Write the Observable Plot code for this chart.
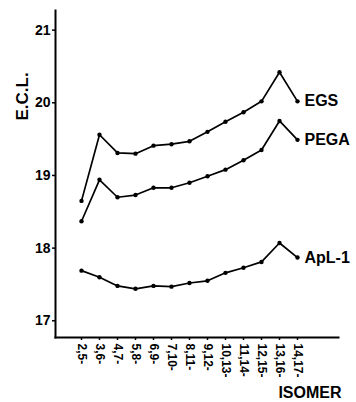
<!DOCTYPE html>
<html>
<head>
<meta charset="utf-8">
<script src="https://cdn.jsdelivr.net/npm/d3@7"></script>
<script src="https://cdn.jsdelivr.net/npm/@observablehq/plot@0.6"></script>
<style>
  html, body { margin: 0; padding: 0; background: #fff; }
  svg { display: block; }
</style>
</head>
<body>
<div id="chart"></div>
<script>
// Equivalent chain lengths of octadecadienoate positional isomers on three phases
const isomers = ["2,5-", "3,6-", "4,7-", "5,8-", "6,9-", "7,10-", "8,11-", "9,12-", "10,13-", "11,14-", "12,15-", "13,16-", "14,17-"];
const egs  = [18.65, 19.56, 19.31, 19.30, 19.41, 19.43, 19.47, 19.60, 19.74, 19.87, 20.02, 20.42, 20.02];
const pega = [18.37, 18.94, 18.70, 18.73, 18.83, 18.83, 18.90, 18.99, 19.08, 19.21, 19.35, 19.75, 19.49];
const apl1 = [17.69, 17.60, 17.48, 17.44, 17.48, 17.47, 17.52, 17.55, 17.66, 17.73, 17.81, 18.07, 17.87];
const phases = ["EGS", "PEGA", "ApL-1"];
const yTicks = [17, 18, 19, 20, 21];

const seriesValues = [egs, pega, apl1];
const rows = phases.flatMap((phase, s) =>
  isomers.map((iso, i) => ({phase, isomer: iso, ecl: seriesValues[s][i], last: i === isomers.length - 1}))
);

const font = "'Liberation Sans', Arial, sans-serif";

const chart = Plot.plot({
  width: 356,
  height: 402,
  marginLeft: 55,
  marginRight: 18,
  marginTop: 10,
  marginBottom: 65,
  style: {fontFamily: font, fontWeight: "bold", color: "#000", background: "#fff"},
  x: {type: "point", domain: isomers, padding: 0, insetLeft: 23, insetRight: 39},
  y: {domain: [16.77, 21.27]},
  marks: [
    Plot.axisY({ticks: yTicks, tickFormat: "d", tickSize: 3, tickPadding: 2, fontSize: 14, label: null, strokeWidth: 1.5}),
    Plot.axisX({tickSize: 3, tickPadding: 3, tickRotate: 90, fontSize: 12, label: null, strokeWidth: 1.5}),
    Plot.frame({anchor: "left", strokeWidth: 2}),
    Plot.frame({anchor: "bottom", strokeWidth: 2}),
    Plot.line(rows, {x: "isomer", y: "ecl", z: "phase", stroke: "#000", strokeWidth: 1.7}),
    Plot.dot(rows, {x: "isomer", y: "ecl", r: 2.2, fill: "#000"}),
    Plot.text(rows.filter(d => d.last), {
      x: "isomer", y: "ecl", text: "phase", textAnchor: "start", dx: 7,
      fontSize: 16, fontWeight: "bold", fill: "#000"
    }),
    Plot.text(["E.C.L."], {
      frameAnchor: "top-left", dx: -40, dy: 110, rotate: -90,
      fontSize: 17, fontWeight: "bold", fill: "#000", style: "letter-spacing: 3px"
    }),
    Plot.text(["ISOMER"], {
      frameAnchor: "bottom-right", dx: 3, dy: 55, textAnchor: "end", lineAnchor: "middle",
      fontSize: 16, fontWeight: "bold", fill: "#000"
    })
  ]
});

document.getElementById("chart").appendChild(chart);
</script>
</body>
</html>
